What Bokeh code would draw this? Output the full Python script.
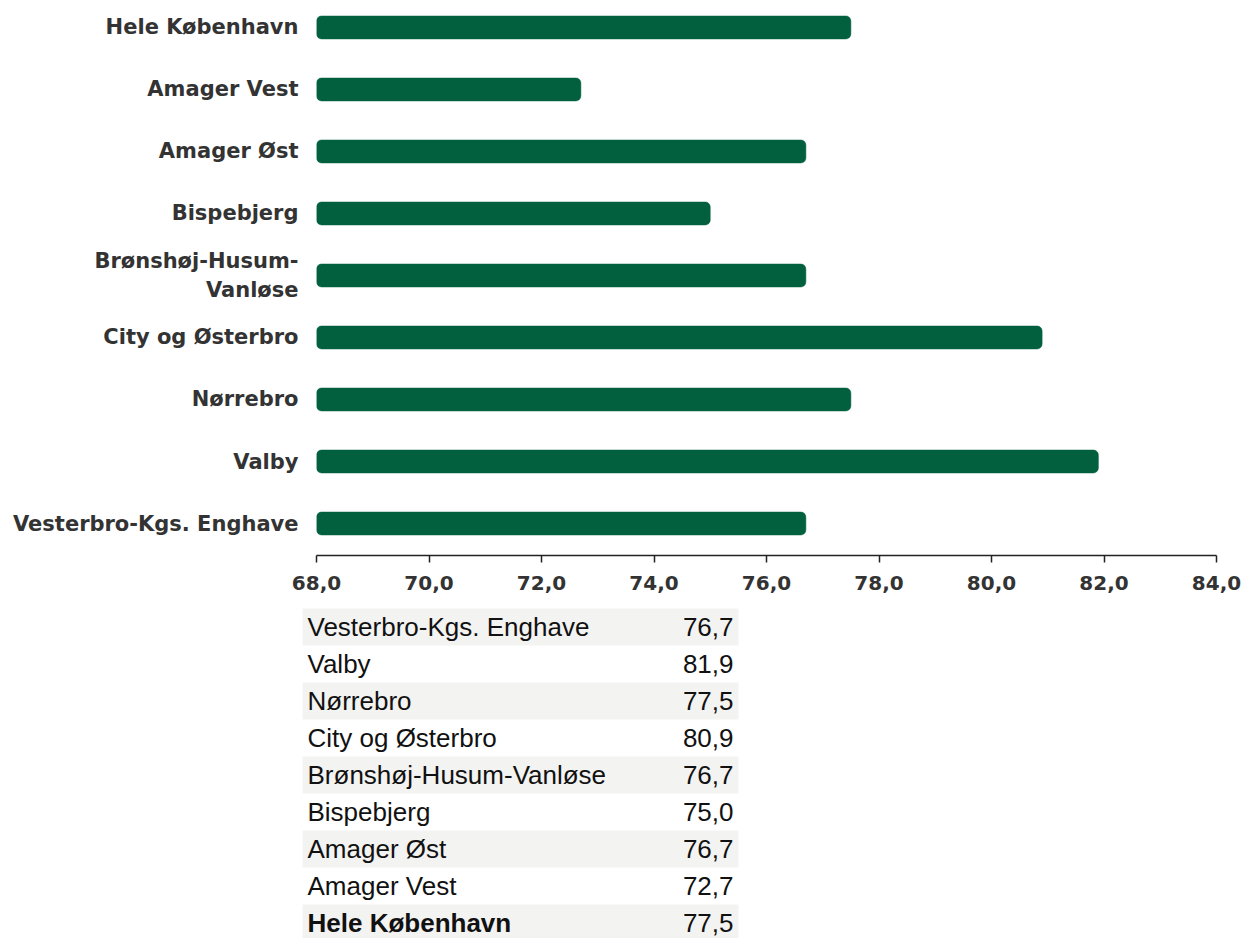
from bokeh.plotting import figure
from bokeh.models import Range1d, FixedTicker, CustomJSTickFormatter, ColumnDataSource
from bokeh.layouts import column
from bokeh.embed import file_html
from bokeh.resources import INLINE
from bokeh.core.properties import value

# ---- data ----
categories = ["Hele København", "Amager Vest", "Amager Øst", "Bispebjerg",
              "Brønshøj-Husum-Vanløse", "City og Østerbro", "Nørrebro",
              "Valby", "Vesterbro-Kgs. Enghave"]
axis_labels = ["Hele København", "Amager Vest", "Amager Øst", "Bispebjerg",
               "Brønshøj-Husum-\nVanløse", "City og Østerbro", "Nørrebro",
               "Valby", "Vesterbro-Kgs. Enghave"]
values = [77.5, 72.7, 76.7, 75.0, 76.7, 80.9, 77.5, 81.9, 76.7]
x_ticks = [68, 70, 72, 74, 76, 78, 80, 82, 84]
highlight = "Hele København"

BAR = "#02603f"
W = 1243
H1 = 600
H2 = 338
n = len(categories)

# ---- chart ----
ys = [n - 1 - i for i in range(n)]
p = figure(width=W, height=H1, output_backend="svg", toolbar_location=None,
           x_range=Range1d(x_ticks[0], x_ticks[-1]),
           y_range=Range1d(-0.516, n - 1 + 0.435),
           min_border_left=316, min_border_right=W - 1216,
           min_border_top=0, min_border_bottom=45)
p.frame_align = False
p.outline_line_color = None
p.grid.visible = False
p.background_fill_color = "white"
p.border_fill_color = "white"

src = ColumnDataSource(dict(y=ys, v=values, name=categories))
p.hbar(y="y", left=x_ticks[0], right="v", height=0.37, source=src,
       fill_color=BAR, line_color=BAR, line_width=0.5, border_radius=5)

p.yaxis.ticker = FixedTicker(ticks=ys)
p.yaxis.major_label_overrides = {y: lab for y, lab in zip(ys, axis_labels)}
p.yaxis.axis_line_color = None
p.yaxis.major_tick_line_color = None
p.yaxis.minor_tick_line_color = None
p.yaxis.major_tick_out = 0
p.yaxis.major_tick_in = 0
p.yaxis.major_label_standoff = 18
p.yaxis.major_label_text_font = "DejaVu Sans"
p.yaxis.major_label_text_font_style = "bold"
p.yaxis.major_label_text_font_size = "21px"
p.yaxis.major_label_text_color = "#333333"

p.xaxis.ticker = FixedTicker(ticks=x_ticks)
p.xaxis.formatter = CustomJSTickFormatter(code="return tick.toFixed(1).replace('.', ',');")
p.xaxis.axis_line_color = "#222222"
p.xaxis.axis_line_width = 1.5
p.xaxis.major_tick_line_color = "#222222"
p.xaxis.major_tick_line_width = 1.5
p.xaxis.major_tick_out = 7
p.xaxis.major_tick_in = 0
p.xaxis.minor_tick_line_color = None
p.xaxis.major_label_standoff = 13
p.xaxis.major_label_text_font = "DejaVu Sans"
p.xaxis.major_label_text_font_style = "bold"
p.xaxis.major_label_text_font_size = "20px"
p.xaxis.major_label_text_color = "#333333"

# ---- table ----
t_names = categories[::-1]
t_vals = values[::-1]
rows = list(range(n))
t = figure(width=W, height=H2, output_backend="svg", toolbar_location=None,
           x_range=Range1d(0, W), y_range=Range1d(8.419, -0.716),
           min_border_left=0, min_border_right=0, min_border_top=0, min_border_bottom=0)
t.frame_align = False
t.axis.visible = False
t.grid.visible = False
t.outline_line_color = None
t.border_fill_color = "white"
t.background_fill_color = "white"

shade = [r for r in rows if r % 2 == 0]
t.hbar(y=shade, left=302, right=738, height=1.0, fill_color="#f3f3f1", line_color=None)

tsrc = ColumnDataSource(dict(
    y=rows,
    name=t_names,
    val=[f"{v:.1f}".replace(".", ",") for v in t_vals],
    style=["bold" if nm == highlight else "normal" for nm in t_names],
))
t.text(x=307, y="y", text="name", source=tsrc, text_font=value("Liberation Sans"),
       text_font_size="26px", text_font_style="style", text_color="#111111",
       text_baseline="middle", text_align="left")
t.text(x=733, y="y", text="val", source=tsrc, text_font=value("Liberation Sans"),
       text_font_size="26px", text_color="#111111",
       text_baseline="middle", text_align="right")

layout = column(p, t, spacing=0)
open("out.html", "w").write(file_html(layout, INLINE))
